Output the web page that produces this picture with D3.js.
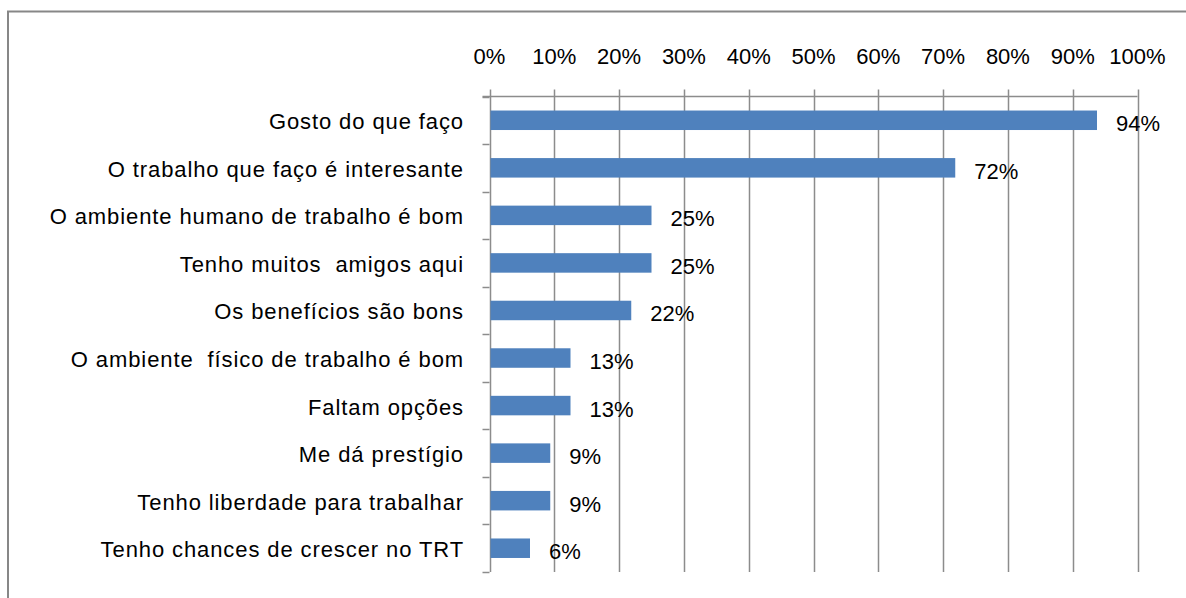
<!DOCTYPE html>
<html><head><meta charset="utf-8">
<script src="https://cdn.jsdelivr.net/npm/d3@7"></script>
<style>body{margin:0;background:#fff}svg{display:block}text{font-family:"Liberation Sans",Arial,sans-serif;fill:#000}</style>
</head><body><svg id="c" width="1186" height="598"></svg>
<script>
const categories = ["Gosto do que faço","O trabalho que faço é interesante","O ambiente humano de trabalho é bom","Tenho muitos  amigos aqui","Os benefícios são bons","O ambiente  físico de trabalho é bom","Faltam opções","Me dá prestígio","Tenho liberdade para trabalhar","Tenho chances de crescer no TRT"];
const values = [0.9375,0.71875,0.25,0.25,0.21875,0.125,0.125,0.09375,0.09375,0.0625];
const tickValues = [0,0.1,0.2,0.3,0.4,0.5,0.6,0.7,0.8,0.9,1.0];

const svg = d3.select("#c");
const pLeft = 489.5, pRight = 1137.5, pTop = 96.5, pBottom = 572;
const x = d3.scaleLinear().domain([0,1]).range([pLeft,pRight]);
const y = d3.scaleBand().domain(categories).range([pTop,pBottom]).paddingInner(0.59).paddingOuter(0.295);
const yb = d3.scaleBand().domain(categories).range([pTop,pBottom]);

// outer border
svg.append("path").attr("d","M8,598 V11.5 H1186").attr("fill","none").attr("stroke","#878787").attr("stroke-width",2);

// gridlines
svg.append("g").selectAll("line").data(tickValues).join("line")
  .attr("x1",d=>Math.round(x(d))+0.5).attr("x2",d=>Math.round(x(d))+0.5)
  .attr("y1",pTop-7).attr("y2",pBottom).attr("stroke","#8c8c8c").attr("stroke-width",1.5);

// top axis line
svg.append("line").attr("x1",pLeft-7).attr("x2",pRight).attr("y1",pTop).attr("y2",pTop).attr("stroke","#8c8c8c").attr("stroke-width",1.5);

// left axis ticks
const bounds = categories.map(c=>yb(c)).concat([pBottom]);
svg.append("g").selectAll("line").data(bounds).join("line")
  .attr("x1",pLeft-7).attr("x2",pLeft).attr("y1",d=>Math.round(d)+0.5).attr("y2",d=>Math.round(d)+0.5)
  .attr("stroke","#8c8c8c").attr("stroke-width",1.5);

// tick labels
svg.append("g").selectAll("text").data(tickValues).join("text")
  .attr("x",d=>x(d)).attr("y",64).attr("text-anchor","middle").attr("font-size",22)
  .text(d=>d3.format(".0%")(d));

// bars
svg.append("g").selectAll("rect").data(values).join("rect")
  .attr("x",pLeft+1).attr("y",(d,i)=>y(categories[i])).attr("width",d=>x(d)-pLeft-1).attr("height",y.bandwidth())
  .attr("fill","#4f81bd");

// category labels
svg.append("g").selectAll("text").data(categories).join("text")
  .attr("x",464).attr("y",c=>yb(c)+yb.bandwidth()/2+9).attr("text-anchor","end").attr("font-size",22)
  .attr("letter-spacing","0.9px").attr("xml:space","preserve").text(c=>c);

// value labels
svg.append("g").selectAll("text").data(values).join("text")
  .attr("x",d=>x(d)+19).attr("y",(d,i)=>yb(categories[i])+yb.bandwidth()/2+11).attr("font-size",22)
  .text(d=>Math.round(d*100)+"%");
</script></body></html>
